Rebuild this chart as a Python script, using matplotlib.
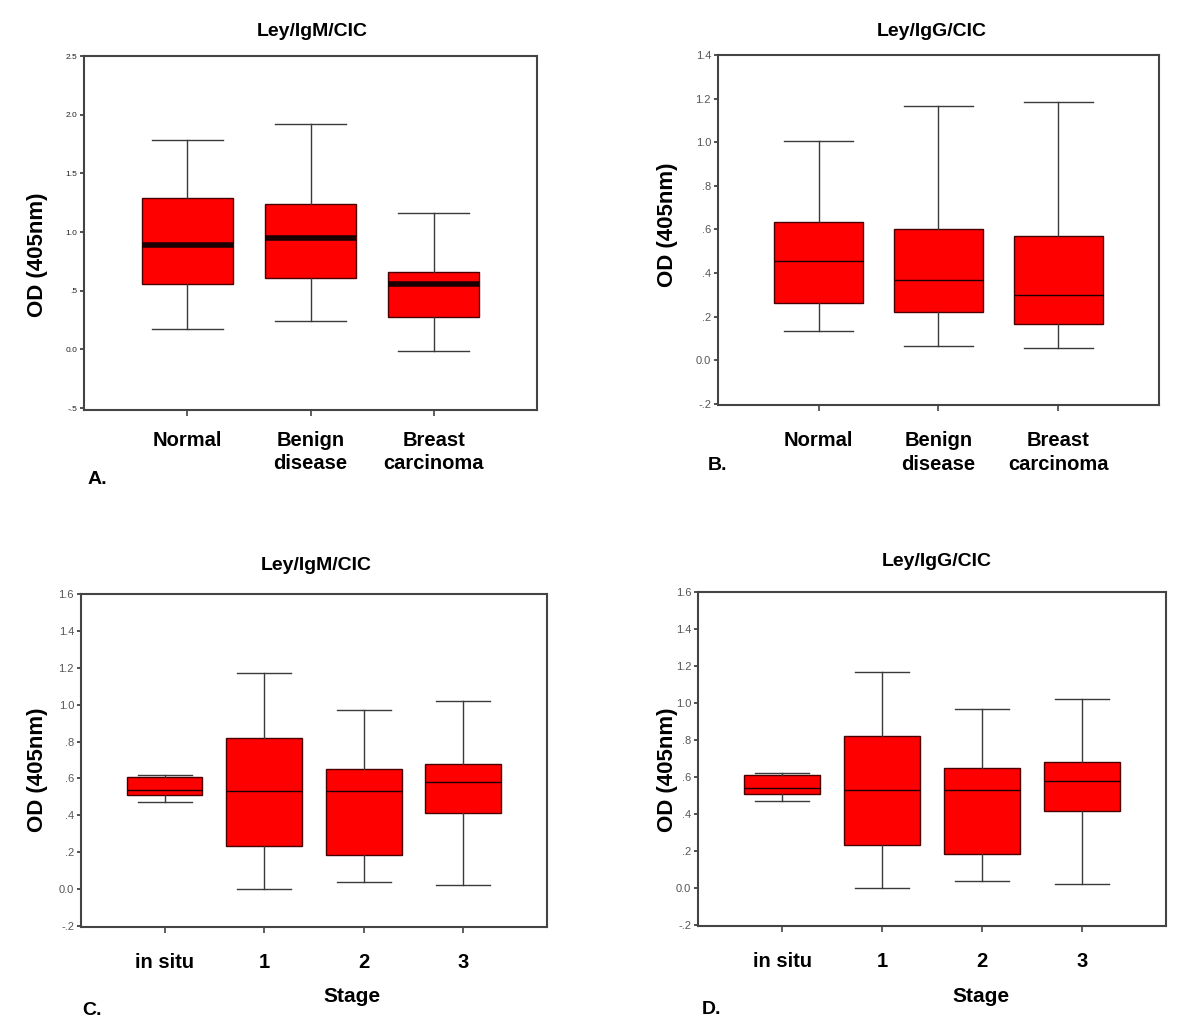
import matplotlib
matplotlib.use("Agg")
import matplotlib.pyplot as plt

plt.rcParams['font.family'] = ['Liberation Sans', 'DejaVu Sans']

# box statistics: low whisker, q1, median, q3, high whisker
groups_ab = ["Normal", "Benign\ndisease", "Breast\ncarcinoma"]
igm_low = [0.17, 0.24, -0.01]
igm_q1 = [0.56, 0.61, 0.28]
igm_med = [0.89, 0.95, 0.56]
igm_q3 = [1.29, 1.24, 0.66]
igm_high = [1.78, 1.92, 1.16]

igg_low = [0.135, 0.065, 0.055]
igg_q1 = [0.265, 0.22, 0.165]
igg_med = [0.455, 0.37, 0.30]
igg_q3 = [0.635, 0.60, 0.57]
igg_high = [1.005, 1.165, 1.185]

stages = ["in situ", "1", "2", "3"]
stage_low = [0.47, 0.00, 0.04, 0.02]
stage_q1 = [0.51, 0.235, 0.185, 0.415]
stage_med = [0.54, 0.53, 0.53, 0.58]
stage_q3 = [0.61, 0.82, 0.65, 0.68]
stage_high = [0.62, 1.17, 0.97, 1.02]

ticks_a = [-0.5, 0.0, 0.5, 1.0, 1.5, 2.0, 2.5]
ticklabels_a = ["-.5", "0.0", ".5", "1.0", "1.5", "2.0", "2.5"]
ticks_b = [-0.2, 0.0, 0.2, 0.4, 0.6, 0.8, 1.0, 1.2, 1.4]
ticklabels_b = ["-.2", "0.0", ".2", ".4", ".6", ".8", "1.0", "1.2", "1.4"]
ticks_c = [-0.2, 0.0, 0.2, 0.4, 0.6, 0.8, 1.0, 1.2, 1.4, 1.6]
ticklabels_c = ["-.2", "0.0", ".2", ".4", ".6", ".8", "1.0", "1.2", "1.4", "1.6"]


def make_stats(low, q1, med, q3, high):
    return [dict(whislo=a, q1=b, med=c, q3=d, whishi=e, fliers=[])
            for a, b, c, d, e in zip(low, q1, med, q3, high)]


def draw_panel(fig, rect, stats, labels, ylim, yticks, yticklabels,
               median_lw, box_w, cap_w, tick_size, tick_color, label_pad):
    ax = fig.add_axes(rect)
    pos = list(range(1, len(stats) + 1))
    ax.bxp(stats, positions=pos, widths=box_w, showfliers=False,
           patch_artist=True,
           boxprops=dict(facecolor="#ff0000", edgecolor="#4a0000", linewidth=1),
           medianprops=dict(color="#1a0000", linewidth=median_lw),
           whiskerprops=dict(color="#3a3a3a", linewidth=1),
           capprops=dict(color="#3a3a3a", linewidth=1),
           capwidths=cap_w)
    ax.set_xlim(pos[0] - 0.84, pos[-1] + 0.84)
    ax.set_ylim(*ylim)
    ax.set_yticks(yticks)
    ax.set_yticklabels(yticklabels, fontsize=tick_size, color=tick_color)
    ax.set_xticks(pos)
    ax.set_xticklabels(labels, fontsize=14.5, fontweight="bold",
                       linespacing=1.3)
    ax.tick_params(axis="x", length=4, width=1.2, color="#444444",
                   pad=label_pad)
    ax.tick_params(axis="y", length=3, width=1.2, color="#333333", pad=2)
    for s in ax.spines.values():
        s.set_color("#444444")
        s.set_linewidth(1.5)
    return ax


fig = plt.figure(figsize=(12, 10.22), dpi=100)

# A
draw_panel(fig, [0.0700, 0.5988, 0.3775, 0.3464],
           make_stats(igm_low, igm_q1, igm_med, igm_q3, igm_high),
           groups_ab, (-0.517, 2.5), ticks_a, ticklabels_a,
           4, 0.74, 0.58, 6, "#222222", 11)
# B
draw_panel(fig, [0.5983, 0.6037, 0.3675, 0.3425],
           make_stats(igg_low, igg_q1, igg_med, igg_q3, igg_high),
           groups_ab, (-0.205, 1.4), ticks_b, ticklabels_b,
           1, 0.74, 0.58, 8, "#555555", 15)
# C
draw_panel(fig, [0.0675, 0.0930, 0.3883, 0.3258],
           make_stats(stage_low, stage_q1, stage_med, stage_q3, stage_high),
           stages, (-0.205, 1.6), ticks_c, ticklabels_c,
           1, 0.76, 0.54, 8, "#555555", 15)
# D
draw_panel(fig, [0.5817, 0.0939, 0.3900, 0.3268],
           make_stats(stage_low, stage_q1, stage_med, stage_q3, stage_high),
           stages, (-0.205, 1.6), ticks_c, ticklabels_c,
           1, 0.76, 0.54, 8, "#555555", 15)

# titles
fig.text(312 / 1200, 1 - 32 / 1022, "Ley/IgM/CIC", ha="center", va="center",
         fontsize=14, fontweight="bold")
fig.text(932 / 1200, 1 - 32 / 1022, "Ley/IgG/CIC", ha="center", va="center",
         fontsize=14, fontweight="bold")
fig.text(316 / 1200, 1 - 565 / 1022, "Ley/IgM/CIC", ha="center", va="center",
         fontsize=14, fontweight="bold")
fig.text(937 / 1200, 1 - 561 / 1022, "Ley/IgG/CIC", ha="center", va="center",
         fontsize=14, fontweight="bold")

# y labels
for x, y in [(37, 255), (668, 225), (37, 770), (668, 770)]:
    fig.text(x / 1200, 1 - y / 1022, "OD (405nm)", rotation=90, ha="center",
             va="center", fontsize=16, fontweight="bold")

# stage labels
fig.text(352 / 1200, 1 - 996 / 1022, "Stage", ha="center", va="center",
         fontsize=15, fontweight="bold")
fig.text(981 / 1200, 1 - 996 / 1022, "Stage", ha="center", va="center",
         fontsize=15, fontweight="bold")

# panel letters
for x, y, t in [(88, 479, "A."), (708, 466, "B."), (82, 1010, "C."),
                (702, 1009, "D.")]:
    fig.text(x / 1200, 1 - y / 1022, t, ha="left", va="center",
             fontsize=14, fontweight="bold")

plt.savefig("out.png", dpi=100)
